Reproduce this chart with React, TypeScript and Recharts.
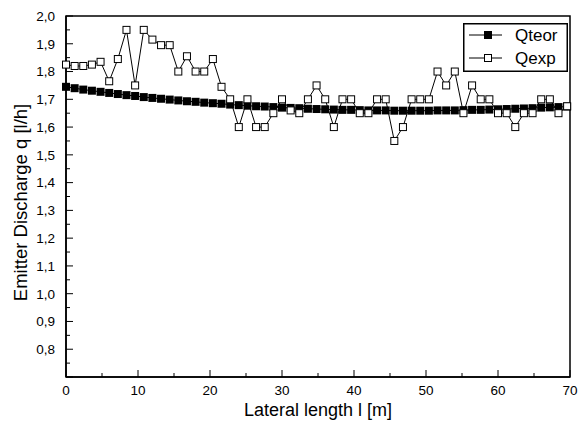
import React from 'react';
import {LineChart, Line, XAxis, YAxis, Legend, ReferenceArea} from 'recharts';

// distance along the lateral [m]
const lengths: number[] = [
    0, 1.2, 2.4, 3.6, 4.8, 6, 7.2, 8.4, 9.6, 10.8,
    12, 13.2, 14.4, 15.6, 16.8, 18, 19.2, 20.4, 21.6, 22.8,
    24, 25.2, 26.4, 27.6, 28.8, 30, 31.2, 32.4, 33.6, 34.8,
    36, 37.2, 38.4, 39.6, 40.8, 42, 43.2, 44.4, 45.6, 46.8,
    48, 49.2, 50.4, 51.6, 52.8, 54, 55.2, 56.4, 57.6, 58.8,
    60, 61.2, 62.4, 63.6, 64.8, 66, 67.2, 68.4, 69.6
]

const qTeor: number[] = [
    1.745, 1.740, 1.735, 1.731, 1.727, 1.723, 1.719, 1.715, 1.712, 1.708,
    1.705, 1.702, 1.699, 1.696, 1.693, 1.691, 1.688, 1.686, 1.684, 1.681,
    1.679, 1.677, 1.675, 1.674, 1.672, 1.670, 1.669, 1.668, 1.666, 1.665,
    1.664, 1.663, 1.662, 1.662, 1.661, 1.660, 1.660, 1.660, 1.659, 1.659,
    1.659, 1.659, 1.659, 1.660, 1.660, 1.660, 1.661, 1.662, 1.662, 1.663,
    1.664, 1.665, 1.666, 1.667, 1.668, 1.670, 1.671, 1.672, 1.674
]

const qExp: number[] = [
    1.825, 1.82, 1.82, 1.825, 1.835, 1.765, 1.845, 1.95, 1.75, 1.95,
    1.915, 1.895, 1.895, 1.80, 1.855, 1.80, 1.80, 1.845, 1.745, 1.70,
    1.60, 1.70, 1.60, 1.60, 1.65, 1.70, 1.66, 1.65, 1.70, 1.75,
    1.70, 1.60, 1.70, 1.70, 1.65, 1.65, 1.70, 1.70, 1.55, 1.60,
    1.70, 1.70, 1.70, 1.80, 1.75, 1.80, 1.65, 1.75, 1.70, 1.70,
    1.65, 1.65, 1.60, 1.65, 1.65, 1.70, 1.70, 1.65, 1.675
]

const xTicks: number[] = [0, 5, 10, 15, 20, 25, 30, 35, 40, 45, 50, 55, 60, 65, 70]
const yTicks: number[] = [
    0.7, 0.75, 0.8, 0.85, 0.9, 0.95, 1.0, 1.05, 1.1, 1.15, 1.2, 1.25, 1.3, 1.35,
    1.4, 1.45, 1.5, 1.55, 1.6, 1.65, 1.7, 1.75, 1.8, 1.85, 1.9, 1.95, 2.0
]

const data = lengths.map((l, i) => ({l, qteor: qTeor[i], qexp: qExp[i]}))

const FONT = '"Liberation Sans", Arial, sans-serif'

const fmt = (v: number) => v.toFixed(1).replace('.', ',')

const isMajor = (v: number, step: number) => Math.abs(v / step - Math.round(v / step)) < 1e-6

// ticks point into the plot, labels only on the major ones
function YTick(props: any) {
    const {x, y, payload} = props
    const v = payload.value
    const major = isMajor(v, 0.1)
    return (
        <g>
            <line x1={x} x2={x + (major ? 7 : 4)} y1={y} y2={y} stroke="#000" />
            {major && v > 0.75 &&
                <text x={x - 11} y={y} dy="0.36em" textAnchor="end" fontFamily={FONT} fontSize={13.5} fill="#000">{fmt(v)}</text>}
        </g>
    )
}

function XTick(props: any) {
    const {x, y, payload} = props
    const v = payload.value
    const major = isMajor(v, 10)
    return (
        <g>
            <line x1={x} x2={x} y1={y} y2={y - (major ? 7 : 4)} stroke="#000" />
            {major &&
                <text x={x} y={y + 18} textAnchor="middle" fontFamily={FONT} fontSize={13.5} fill="#000">{v}</text>}
        </g>
    )
}

function FilledSquare(props: any) {
    const {cx, cy, index} = props
    if (cx == null || cy == null) return <g key={index} />
    return <rect key={index} x={cx - 4} y={cy - 4} width={8} height={8} fill="#000" />
}

function OpenSquare(props: any) {
    const {cx, cy, index} = props
    if (cx == null || cy == null) return <g key={index} />
    return <rect key={index} x={cx - 3.5} y={cy - 3.5} width={7} height={7} fill="#fff" stroke="#000" strokeWidth={1} />
}

function LegendBox() {
    const rows = [
        {name: 'Qteor', fill: '#000'},
        {name: 'Qexp', fill: '#fff'}
    ]
    return (
        <svg width={105} height={49} style={{display: 'block'}}>
            <rect x={0.75} y={0.75} width={103.5} height={47.5} fill="#fff" stroke="#000" strokeWidth={1.5} />
            {rows.map((r, i) => {
                const cy = 12 + i * 23
                return (
                    <g key={r.name}>
                        <line x1={6} x2={39} y1={cy} y2={cy} stroke="#000" />
                        <rect x={21.5} y={cy - 3.5} width={7} height={7} fill={r.fill} stroke="#000" />
                        <text x={52} y={cy} dy="0.36em" fontFamily={FONT} fontSize={17} fill="#000">{r.name}</text>
                    </g>
                )
            })}
        </svg>
    )
}

export default function App() {
    return (
        <div style={{position: 'absolute', left: 0, top: 0, width: 584, height: 422, background: '#fff'}}>
            <LineChart width={584} height={422} data={data} margin={{top: 16, right: 14, left: 0, bottom: 0}}>
                <XAxis dataKey="l" type="number" domain={[0, 70]} ticks={xTicks} interval={0}
                       tickSize={0} tickMargin={0} tick={<XTick />} height={45}
                       axisLine={{stroke: '#000', strokeWidth: 1.5}}
                       label={{value: 'Lateral length l [m]', position: 'insideBottom', offset: 6,
                           style: {fontFamily: FONT, fontSize: 18, fill: '#000'}}} />
                <YAxis type="number" domain={[0.7, 2.0]} ticks={yTicks} interval={0}
                       tickSize={0} tickMargin={0} tick={<YTick />} width={66}
                       axisLine={{stroke: '#000', strokeWidth: 1.5}}
                       label={{value: 'Emitter Discharge q [l/h]', angle: -90, position: 'insideLeft', offset: 20, dy: 6,
                           style: {fontFamily: FONT, fontSize: 18.5, fill: '#000', textAnchor: 'middle'}}} />
                <ReferenceArea x1={0} x2={70} y1={0.7} y2={2.0} fill="none" stroke="#000" strokeWidth={1.5} />
                <Line dataKey="qteor" name="Qteor" stroke="#000" strokeWidth={1} dot={FilledSquare}
                      activeDot={false} isAnimationActive={false} />
                <Line dataKey="qexp" name="Qexp" stroke="#000" strokeWidth={1} dot={OpenSquare}
                      activeDot={false} isAnimationActive={false} />
                <Legend layout="horizontal" verticalAlign="middle" align="center" content={<LegendBox />}
                        wrapperStyle={{top: 23, left: 463, width: 105}} />
            </LineChart>
        </div>
    )
}
